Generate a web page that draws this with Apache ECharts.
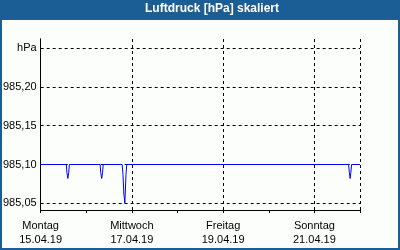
<!DOCTYPE html>
<html><head><meta charset="utf-8">
<script src="https://cdn.jsdelivr.net/npm/echarts@6/dist/echarts.min.js"></script>
<style>html,body{margin:0;padding:0;background:#fff}#c{width:400px;height:250px}</style>
</head><body><div id="c"></div>
<script>
// Hours since Montag 15.04.19 00:00
const timeHours = [0, 13.5, 13.8, 14.3, 14.8, 15.1, 31.3, 31.6, 32.1, 32.6, 32.9, 42.9, 43.3, 43.8, 44.3, 44.9, 45.3, 162.0, 162.4, 162.8, 163.2, 163.6, 168];
const pressure  = [985.10, 985.10, 985.09, 985.082, 985.09, 985.10, 985.10, 985.09, 985.082, 985.09, 985.10, 985.10, 985.087, 985.062, 985.05, 985.087, 985.10, 985.10, 985.09, 985.082, 985.09, 985.10, 985.10];
const dayNames = ['Montag', 'Mittwoch', 'Freitag', 'Sonntag'];
const dayDates = ['15.04.19', '17.04.19', '19.04.19', '21.04.19'];
const yTicks = [985.05, 985.10, 985.15, 985.20, 985.25];
const yUnit = 'hPa';
const yMin = 985.0414, yMax = 985.2617;

const chart = echarts.init(document.getElementById('c'), null, {renderer: 'canvas'});
const font = 'Liberation Sans';
const data = timeHours.map((t, i) => [t, pressure[i]]);
chart.setOption({
  backgroundColor: '#1b5e95',
  animation: false,
  title: {
    text: 'Luftdruck [hPa] skaliert', left: 145, top: 3, padding: 0,
    textStyle: {color: '#ffffff', fontFamily: font, fontSize: 12, fontWeight: 'bold'}
  },
  graphic: [{type: 'rect', z: -100, shape: {x: 2, y: 20, width: 396, height: 228}, style: {fill: '#fcfefc'}, silent: true}],
  grid: {left: 40, right: 40, top: 39, bottom: 40},
  xAxis: [{
    type: 'value', min: 0, max: 168, interval: 24, z: 3,
    axisLine: {show: true, onZero: false, lineStyle: {color: '#000', width: 1}},
    axisTick: {show: true, length: 3, lineStyle: {color: '#000'}},
    axisLabel: {show: false},
    splitLine: {show: false}
  }, {
    type: 'value', min: 0, max: 168, interval: 48, position: 'bottom', z: 3,
    axisLine: {show: false}, axisTick: {show: false},
    axisLabel: {
      show: true, margin: 9, color: '#000', fontFamily: font, fontSize: 11, lineHeight: 14,
      formatter: v => { const i = v / 48; return (Number.isInteger(i) && i < dayNames.length) ? dayNames[i] + '\n' + dayDates[i] : ''; }
    },
    splitLine: {show: true, lineStyle: {color: '#000', type: [3, 3], width: 1}}
  }],
  yAxis: [{
    type: 'value', min: yMin, max: yMax, z: 3,
    axisLine: {show: true, lineStyle: {color: '#000'}},
    axisTick: {show: false, customValues: yTicks},
    axisLabel: {
      customValues: yTicks, margin: 4, color: '#000', fontFamily: font, fontSize: 11,
      formatter: v => Math.abs(v - 985.25) < 1e-6 ? yUnit : v.toFixed(2).replace('.', ',')
    },
    splitLine: {show: true, lineStyle: {color: '#000', type: [3, 3], width: 1}}
  }, {
    type: 'value', min: yMin, max: yMax, position: 'right', z: 3,
    axisLine: {show: true, lineStyle: {color: '#000'}},
    axisTick: {show: false}, axisLabel: {show: false}, splitLine: {show: false}
  }],
  series: [{
    type: 'line', xAxisIndex: 0, yAxisIndex: 0, data: data, z: 5,
    showSymbol: false, symbol: 'none',
    lineStyle: {color: '#0000ff', width: 1}
  }]
});
</script></body></html>
